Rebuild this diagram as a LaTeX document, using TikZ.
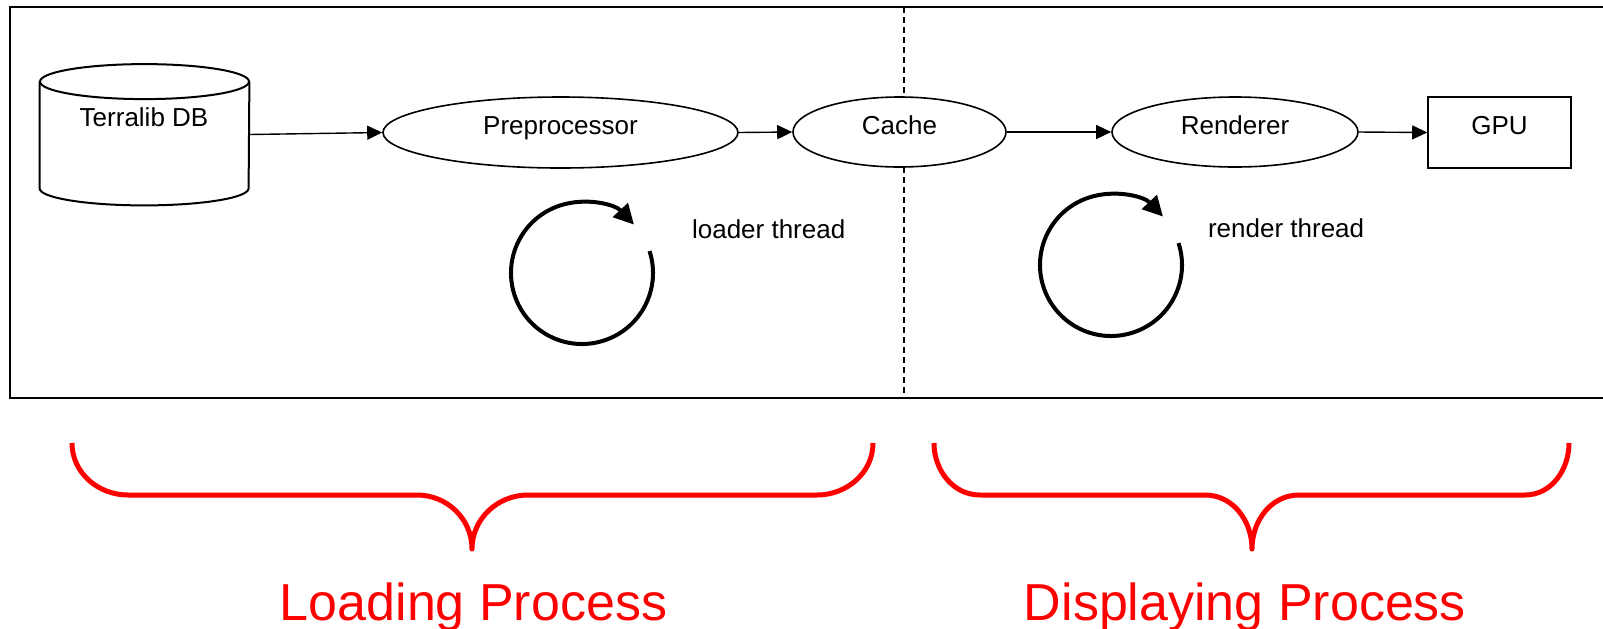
\documentclass[tikz,border=0pt]{standalone}
\usepackage{fontspec}
\setmainfont{Liberation Sans}
\usetikzlibrary{shapes.geometric,arrows.meta}

\begin{document}
\begin{tikzpicture}[x=0.5pt,y=0.5pt,
  every node/.style={font=\fontsize{13}{15}\selectfont},
  proc/.style={draw,line width=0.8pt,fill=white,inner sep=0pt,text height=9pt,text depth=7pt},
  link/.style={line width=0.7pt,-{Triangle[length=7.5pt,width=7pt]}},
  loop/.style={line width=2pt,-{Triangle[length=10pt,width=10pt]}},
  brace/.style={red,line width=2.5pt,line join=round},
  caption/.style={red,anchor=base,font=\fontsize{26}{30}\selectfont}]

\useasboundingbox (0,0) rectangle (1603,-628);

% frame and the split between the two threads
\draw [line width=1pt] (10,-7) rectangle (1612,-398);
\draw [line width=0.6pt, dash pattern=on 3pt off 2pt] (904,-7) -- (904,-398);

% database drum
\node [minimum width=104.5pt, minimum height=70.5pt, inner sep=0pt] (db) at (144.5,-134.5) {};
\draw [line width=1pt] ([yshift=-9pt]db.north) ellipse [x radius=104.5, y radius=17.5];
\draw [line width=1pt] ([yshift=-9pt]db.north west) -- ([yshift=8.5pt]db.south west)
  arc [start angle=180, end angle=360, x radius=104.5, y radius=17] -- ([yshift=-9pt]db.north east);
\node [anchor=base] (dbname) at (144,-126) {Terralib DB};

% pipeline
\node [proc, ellipse, minimum width=177.5pt, minimum height=35.5pt] (pre) at (560.5,-132.5) {Preprocessor};
\node [proc, ellipse, minimum width=106.5pt, minimum height=35pt] (cache) at (899.5,-132) {Cache};
\node [proc, ellipse, minimum width=123pt, minimum height=35pt] (ren) at (1235,-132) {Renderer};
\node [proc, rectangle, minimum width=71.5pt, minimum height=35.5pt] (gpu) at (1499.5,-132.5) {GPU};

\draw [link] (db.east) -- (pre.west);
\draw [link] (pre.east) -- (cache.west);
\draw [link] (cache.east) -- (ren.west);
\draw [link] (ren.east) -- (gpu.west);

% thread loops
\coordinate (lc) at (582,-273);
\draw [loop] ([shift={(18:71)}]lc) arc [start angle=18, end angle=-317, radius=71];
\node [anchor=base west] (lt) at (685,-238) {loader thread};

\coordinate (rc) at (1111,-265);
\draw [loop] ([shift={(18:71)}]rc) arc [start angle=18, end angle=-317, radius=71];
\node [anchor=base west] (rt) at (1201,-237) {render thread};

% braces
\draw [brace] (72,-443) to [out=-90,in=180] (128,-495) -- (417,-495) to [out=0,in=90] (472,-549)
  to [out=90,in=180] (528,-495) -- (817,-495) to [out=0,in=-90] (873,-443);
\draw [brace] (934,-443) to [out=-90,in=180] (980,-495) -- (1205,-495) to [out=0,in=90] (1252,-549)
  to [out=90,in=180] (1299,-495) -- (1525,-495) to [out=0,in=-90] (1569,-443);

\node [caption] (load) at (473.5,-620) {Loading Process};
\node [caption] (disp) at (1245,-620) {Displaying Process};

\end{tikzpicture}
\end{document}
